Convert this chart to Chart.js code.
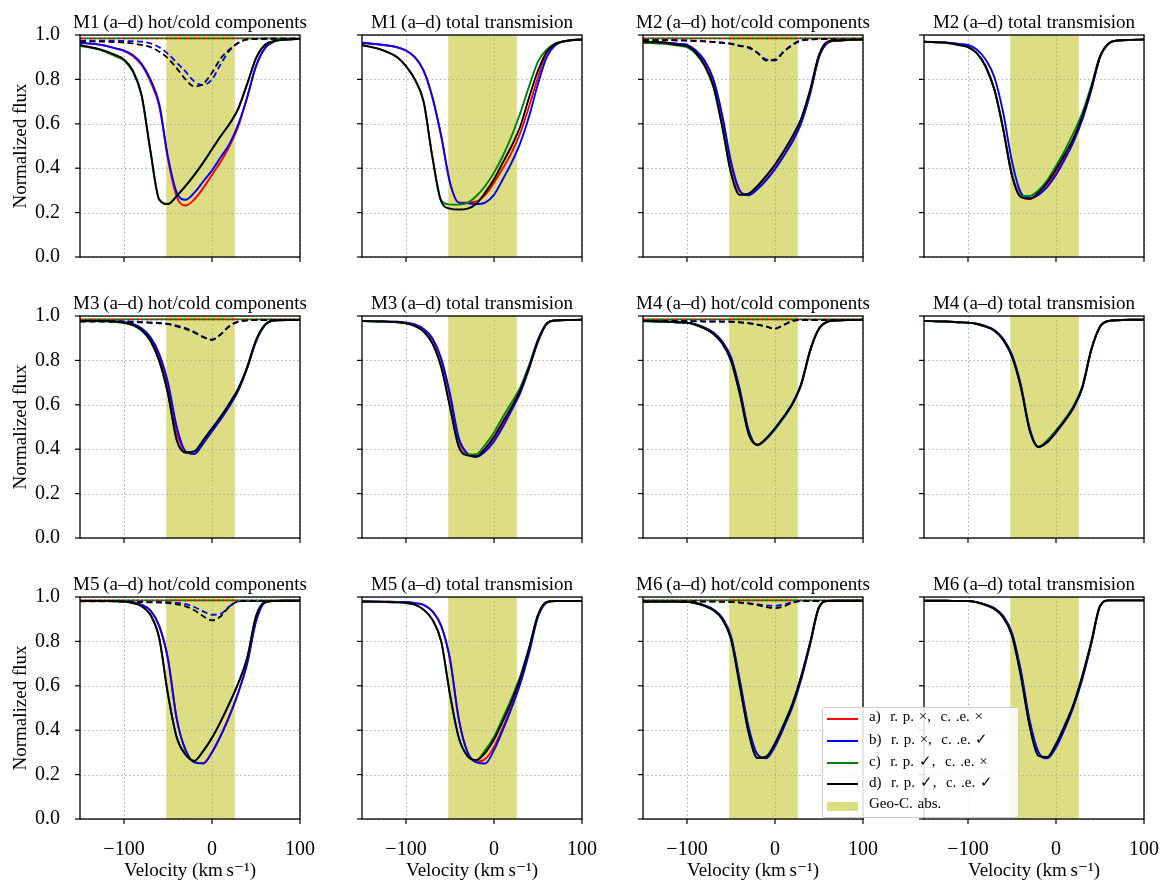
<!DOCTYPE html>
<html>
<head>
<meta charset="utf-8">
<script src="https://cdn.jsdelivr.net/npm/chart.js@4.4.1/dist/chart.umd.min.js"></script>
<style>
body { margin: 0; background: #fff; width: 1175px; height: 896px; position: relative; overflow: hidden; }
canvas { position: absolute; }
#legend { position: absolute; left: 822px; top: 707px; width: 195px; height: 109px; border: 1px solid #cccccc;
          border-radius: 3px; background: rgba(255,255,255,0.85); z-index: 5; font-family: "Liberation Serif", serif;
          font-size: 15px; color: #000; }
#legend .row { position: absolute; left: 0; height: 20px; width: 195px; }
#legend .mark { position: absolute; left: 4px; top: 9px; width: 31px; height: 2px; }
#legend .patch { position: absolute; left: 4px; top: 6px; width: 31px; height: 9px; }
#legend .txt { position: absolute; left: 46px; top: -1px; white-space: pre; word-spacing: 1px; }
</style>
</head>
<body>
<div id="legend"></div>
<script>
// Velocity grid (km/s) shared by every curve
const velocity = [-150,-125,-110,-100,-90,-80,-70,-60,-50,-40,-30,-20,-10,0,10,20,30,40,50,60,70,85,100];
// Geocoronal absorption band
const geoRange = [-52, 26];

const panelTitles = [
    'M1\u2009(a\u2013d) hot/cold components', 'M1\u2009(a\u2013d) total transmision',
    'M2\u2009(a\u2013d) hot/cold components', 'M2\u2009(a\u2013d) total transmision',
    'M3\u2009(a\u2013d) hot/cold components', 'M3\u2009(a\u2013d) total transmision',
    'M4\u2009(a\u2013d) hot/cold components', 'M4\u2009(a\u2013d) total transmision',
    'M5\u2009(a\u2013d) hot/cold components', 'M5\u2009(a\u2013d) total transmision',
    'M6\u2009(a\u2013d) hot/cold components', 'M6\u2009(a\u2013d) total transmision'
];
const legendLabels = ['a)  r. p. \u00d7,  c. .e. \u00d7', 'b)  r. p. \u00d7,  c. .e. \u2713',
                      'c)  r. p. \u2713,  c. .e. \u00d7', 'd)  r. p. \u2713,  c. .e. \u2713'];
const shadeLabel = 'Geo-C. abs.';
const xTitle = 'Velocity (km\u2009s\u207b\u00b9)';
const yTitle = 'Normalized flux';

// cold component of cases a) and c): no absorption
const cold_flat = [0.985,0.985,0.985,0.985,0.985,0.985,0.985,0.985,0.985,0.985,0.985,0.985,0.985,0.985,0.985,0.985,0.985,0.985,0.985,0.985,0.985,0.985,0.985];

// M1
const m1_hot_a = [0.965,0.955,0.94,0.928,0.905,0.865,0.79,0.68,0.44,0.27,0.232,0.26,0.31,0.37,0.43,0.50,0.59,0.72,0.86,0.94,0.97,0.98,0.982];
const m1_hot_b = [0.965,0.955,0.94,0.93,0.91,0.87,0.80,0.69,0.45,0.29,0.258,0.29,0.34,0.39,0.45,0.51,0.60,0.72,0.86,0.94,0.97,0.98,0.982];
const m1_hot_c = [0.952,0.93,0.905,0.885,0.835,0.725,0.475,0.258,0.24,0.275,0.32,0.37,0.425,0.485,0.545,0.60,0.67,0.78,0.895,0.955,0.972,0.98,0.982];
const m1_hot_d = [0.955,0.933,0.91,0.89,0.84,0.73,0.48,0.26,0.238,0.275,0.32,0.37,0.425,0.485,0.545,0.60,0.67,0.78,0.895,0.955,0.972,0.98,0.982];
const m1_cold_b = [0.975,0.975,0.974,0.973,0.972,0.97,0.962,0.945,0.915,0.875,0.835,0.79,0.775,0.80,0.87,0.93,0.965,0.98,0.982,0.983,0.983,0.983,0.983];
const m1_cold_d = [0.97,0.97,0.968,0.966,0.962,0.955,0.945,0.925,0.895,0.85,0.80,0.768,0.78,0.83,0.895,0.935,0.965,0.98,0.982,0.983,0.983,0.983,0.983];
const m1_tot_a = [0.965,0.955,0.945,0.93,0.90,0.84,0.72,0.545,0.335,0.245,0.245,0.25,0.28,0.335,0.40,0.47,0.56,0.68,0.81,0.92,0.958,0.975,0.98];
const m1_tot_b = [0.965,0.955,0.945,0.93,0.90,0.84,0.72,0.545,0.335,0.245,0.242,0.238,0.245,0.28,0.35,0.425,0.515,0.635,0.78,0.90,0.955,0.975,0.98];
const m1_tot_c = [0.955,0.93,0.90,0.86,0.80,0.70,0.45,0.255,0.236,0.236,0.245,0.275,0.32,0.38,0.455,0.545,0.65,0.77,0.88,0.935,0.962,0.975,0.98];
const m1_tot_d = [0.955,0.93,0.90,0.86,0.80,0.70,0.45,0.25,0.218,0.214,0.218,0.24,0.29,0.35,0.425,0.50,0.59,0.72,0.84,0.925,0.96,0.975,0.98];

// M2
const m2_hot_a = [0.97,0.966,0.96,0.955,0.93,0.882,0.795,0.632,0.42,0.295,0.28,0.31,0.35,0.40,0.46,0.527,0.61,0.74,0.90,0.965,0.975,0.978,0.98];
const m2_hot_b = [0.97,0.966,0.96,0.955,0.93,0.885,0.80,0.64,0.43,0.30,0.278,0.305,0.345,0.395,0.455,0.52,0.605,0.735,0.90,0.965,0.975,0.978,0.98];
const m2_hot_c = [0.965,0.96,0.952,0.945,0.915,0.86,0.765,0.585,0.378,0.28,0.285,0.318,0.363,0.415,0.475,0.543,0.624,0.752,0.91,0.97,0.975,0.978,0.98];
const m2_hot_d = [0.97,0.965,0.955,0.95,0.92,0.865,0.77,0.59,0.38,0.28,0.285,0.32,0.365,0.417,0.477,0.545,0.626,0.753,0.91,0.97,0.975,0.978,0.98];
const m2_cold_b = [0.977,0.977,0.976,0.975,0.974,0.972,0.969,0.966,0.961,0.952,0.942,0.92,0.89,0.885,0.925,0.958,0.977,0.98,0.981,0.981,0.981,0.981,0.981];
const m2_cold_d = [0.977,0.977,0.976,0.975,0.973,0.971,0.968,0.965,0.96,0.95,0.945,0.92,0.885,0.89,0.925,0.955,0.975,0.98,0.981,0.981,0.981,0.981,0.981];
const m2_tot_a = [0.97,0.965,0.955,0.945,0.918,0.86,0.757,0.58,0.372,0.275,0.262,0.28,0.32,0.38,0.45,0.53,0.625,0.755,0.90,0.962,0.975,0.978,0.98];
const m2_tot_b = [0.97,0.966,0.96,0.955,0.935,0.89,0.81,0.65,0.43,0.29,0.265,0.28,0.315,0.37,0.44,0.52,0.62,0.75,0.90,0.962,0.975,0.978,0.98];
const m2_tot_c = [0.97,0.965,0.955,0.945,0.918,0.858,0.753,0.576,0.37,0.275,0.275,0.30,0.345,0.41,0.48,0.56,0.65,0.77,0.905,0.963,0.975,0.978,0.98];
const m2_tot_d = [0.97,0.965,0.955,0.945,0.918,0.858,0.753,0.574,0.365,0.27,0.262,0.29,0.335,0.395,0.462,0.537,0.634,0.76,0.903,0.963,0.975,0.978,0.98];

// M3
const m3_hot_a = [0.978,0.978,0.975,0.971,0.962,0.942,0.898,0.818,0.68,0.475,0.388,0.38,0.43,0.485,0.54,0.60,0.668,0.767,0.887,0.958,0.98,0.982,0.982];
const m3_hot_b = [0.978,0.978,0.975,0.972,0.964,0.945,0.905,0.83,0.70,0.50,0.39,0.378,0.425,0.48,0.535,0.595,0.665,0.765,0.885,0.958,0.98,0.982,0.982];
const m3_hot_c = [0.976,0.976,0.973,0.968,0.958,0.934,0.887,0.797,0.648,0.44,0.385,0.39,0.44,0.494,0.547,0.607,0.674,0.77,0.89,0.96,0.98,0.982,0.982];
const m3_hot_d = [0.978,0.978,0.975,0.97,0.96,0.937,0.89,0.80,0.65,0.44,0.385,0.39,0.44,0.494,0.547,0.607,0.674,0.77,0.89,0.96,0.98,0.982,0.982];
const m3_cold_b = [0.977,0.977,0.977,0.976,0.975,0.973,0.971,0.969,0.965,0.957,0.945,0.928,0.906,0.893,0.918,0.955,0.975,0.98,0.982,0.982,0.982,0.982,0.982];
const m3_cold_d = [0.975,0.975,0.975,0.974,0.973,0.971,0.969,0.967,0.963,0.953,0.942,0.925,0.905,0.893,0.918,0.955,0.975,0.98,0.982,0.982,0.982,0.982,0.982];
const m3_tot_a = [0.977,0.976,0.974,0.97,0.961,0.94,0.895,0.80,0.635,0.44,0.377,0.368,0.40,0.45,0.515,0.585,0.662,0.768,0.887,0.966,0.98,0.982,0.983];
const m3_tot_b = [0.977,0.976,0.974,0.97,0.962,0.942,0.90,0.81,0.65,0.45,0.38,0.365,0.39,0.435,0.50,0.575,0.655,0.765,0.885,0.965,0.98,0.982,0.983];
const m3_tot_c = [0.977,0.975,0.972,0.967,0.955,0.93,0.877,0.77,0.592,0.415,0.376,0.378,0.42,0.475,0.545,0.61,0.68,0.78,0.895,0.968,0.98,0.982,0.983];
const m3_tot_d = [0.977,0.975,0.972,0.967,0.955,0.93,0.877,0.77,0.59,0.41,0.372,0.368,0.404,0.456,0.524,0.59,0.667,0.772,0.89,0.967,0.98,0.982,0.983];

// M4
const m4_hot_a = [0.978,0.975,0.972,0.97,0.962,0.947,0.925,0.885,0.812,0.665,0.482,0.418,0.446,0.491,0.544,0.604,0.694,0.844,0.942,0.975,0.98,0.982,0.983];
const m4_hot_b = [0.978,0.975,0.972,0.97,0.962,0.948,0.926,0.886,0.815,0.67,0.485,0.418,0.445,0.49,0.543,0.603,0.693,0.843,0.942,0.975,0.98,0.982,0.983];
const m4_hot_c = [0.976,0.974,0.971,0.969,0.959,0.943,0.919,0.876,0.798,0.648,0.468,0.42,0.45,0.495,0.548,0.608,0.698,0.848,0.944,0.975,0.98,0.982,0.983];
const m4_hot_d = [0.978,0.975,0.972,0.97,0.96,0.944,0.92,0.877,0.80,0.65,0.47,0.42,0.449,0.494,0.547,0.607,0.697,0.847,0.944,0.975,0.98,0.982,0.983];
const m4_cold_b = [0.978,0.978,0.978,0.977,0.977,0.976,0.976,0.975,0.974,0.972,0.968,0.962,0.953,0.944,0.96,0.978,0.982,0.982,0.982,0.982,0.982,0.982,0.982];
const m4_cold_d = [0.977,0.977,0.977,0.976,0.976,0.975,0.975,0.975,0.974,0.971,0.967,0.96,0.952,0.942,0.96,0.978,0.982,0.982,0.982,0.982,0.982,0.982,0.982];
const m4_tot_a = [0.978,0.975,0.972,0.97,0.965,0.954,0.936,0.896,0.823,0.688,0.493,0.41,0.431,0.476,0.528,0.588,0.678,0.846,0.951,0.978,0.981,0.983,0.983];
const m4_tot_b = [0.978,0.975,0.972,0.97,0.965,0.954,0.937,0.897,0.825,0.69,0.495,0.41,0.43,0.475,0.527,0.587,0.677,0.845,0.951,0.978,0.981,0.983,0.983];
const m4_tot_c = [0.978,0.975,0.972,0.97,0.964,0.952,0.934,0.892,0.817,0.68,0.486,0.412,0.44,0.485,0.536,0.596,0.686,0.85,0.953,0.978,0.981,0.983,0.983];
const m4_tot_d = [0.978,0.975,0.972,0.97,0.964,0.952,0.934,0.892,0.817,0.68,0.486,0.41,0.434,0.479,0.53,0.59,0.68,0.847,0.952,0.978,0.981,0.983,0.983];

// M5
const m5_hot_a = [0.982,0.982,0.982,0.982,0.977,0.965,0.94,0.87,0.72,0.45,0.31,0.256,0.252,0.302,0.378,0.468,0.573,0.703,0.892,0.975,0.982,0.983,0.983];
const m5_hot_b = [0.982,0.982,0.982,0.982,0.977,0.965,0.94,0.87,0.72,0.45,0.31,0.255,0.25,0.30,0.375,0.465,0.57,0.70,0.89,0.975,0.982,0.983,0.983];
const m5_hot_c = [0.982,0.982,0.981,0.98,0.973,0.958,0.92,0.815,0.56,0.366,0.29,0.262,0.306,0.366,0.44,0.523,0.613,0.726,0.913,0.977,0.982,0.983,0.983];
const m5_hot_d = [0.982,0.982,0.981,0.98,0.973,0.958,0.92,0.815,0.56,0.366,0.29,0.262,0.306,0.366,0.44,0.523,0.613,0.726,0.913,0.977,0.982,0.983,0.983];
const m5_cold_b = [0.982,0.982,0.982,0.981,0.98,0.979,0.978,0.978,0.977,0.973,0.968,0.955,0.935,0.92,0.924,0.958,0.98,0.982,0.982,0.982,0.982,0.982,0.982];
const m5_cold_d = [0.98,0.98,0.98,0.979,0.978,0.977,0.976,0.975,0.973,0.967,0.958,0.94,0.913,0.895,0.913,0.958,0.98,0.982,0.982,0.982,0.982,0.982,0.982];
const m5_tot_a = [0.98,0.979,0.978,0.978,0.972,0.965,0.935,0.87,0.72,0.45,0.30,0.258,0.27,0.325,0.41,0.51,0.62,0.76,0.915,0.976,0.982,0.982,0.982];
const m5_tot_b = [0.98,0.979,0.978,0.978,0.972,0.965,0.935,0.87,0.72,0.45,0.30,0.255,0.25,0.31,0.40,0.50,0.61,0.75,0.91,0.975,0.982,0.982,0.982];
const m5_tot_c = [0.98,0.978,0.976,0.973,0.966,0.943,0.898,0.80,0.56,0.366,0.283,0.265,0.31,0.37,0.455,0.545,0.645,0.775,0.92,0.978,0.982,0.982,0.982];
const m5_tot_d = [0.98,0.978,0.976,0.973,0.966,0.943,0.898,0.80,0.56,0.366,0.283,0.265,0.298,0.358,0.44,0.53,0.636,0.77,0.92,0.978,0.982,0.982,0.982];

// M6
const m6_hot_a = [0.98,0.98,0.979,0.978,0.973,0.962,0.943,0.905,0.82,0.62,0.41,0.29,0.275,0.33,0.415,0.51,0.635,0.79,0.953,0.982,0.983,0.983,0.983];
const m6_hot_b = [0.98,0.98,0.979,0.978,0.973,0.962,0.944,0.907,0.823,0.625,0.415,0.292,0.273,0.327,0.412,0.507,0.632,0.788,0.952,0.982,0.983,0.983,0.983];
const m6_hot_c = [0.98,0.98,0.979,0.978,0.972,0.96,0.94,0.90,0.81,0.60,0.39,0.275,0.282,0.342,0.427,0.522,0.647,0.797,0.955,0.982,0.983,0.983,0.983];
const m6_hot_d = [0.98,0.98,0.979,0.978,0.972,0.96,0.94,0.90,0.81,0.60,0.39,0.275,0.28,0.34,0.425,0.52,0.645,0.795,0.955,0.982,0.983,0.983,0.983];
const m6_cold_b = [0.981,0.981,0.981,0.981,0.981,0.98,0.98,0.979,0.978,0.976,0.972,0.967,0.962,0.96,0.966,0.977,0.982,0.982,0.982,0.982,0.982,0.982,0.982];
const m6_cold_d = [0.98,0.98,0.98,0.98,0.98,0.979,0.979,0.978,0.977,0.975,0.97,0.963,0.955,0.95,0.958,0.975,0.982,0.982,0.982,0.982,0.982,0.982,0.982];
const m6_tot_a = [0.983,0.983,0.982,0.982,0.977,0.966,0.949,0.913,0.835,0.665,0.44,0.30,0.275,0.325,0.41,0.51,0.635,0.79,0.958,0.985,0.985,0.985,0.985];
const m6_tot_b = [0.983,0.983,0.982,0.982,0.977,0.966,0.95,0.915,0.838,0.67,0.445,0.302,0.273,0.322,0.407,0.507,0.632,0.787,0.957,0.985,0.985,0.985,0.985];
const m6_tot_c = [0.983,0.983,0.982,0.982,0.976,0.964,0.946,0.908,0.826,0.645,0.42,0.285,0.28,0.34,0.425,0.52,0.648,0.797,0.96,0.985,0.985,0.985,0.985];
const m6_tot_d = [0.983,0.983,0.982,0.982,0.976,0.964,0.946,0.908,0.826,0.645,0.42,0.285,0.278,0.337,0.42,0.517,0.645,0.795,0.96,0.985,0.985,0.985,0.985];

const hotSets = [
    [m1_hot_a, m1_hot_b, m1_hot_c, m1_hot_d], [m2_hot_a, m2_hot_b, m2_hot_c, m2_hot_d],
    [m3_hot_a, m3_hot_b, m3_hot_c, m3_hot_d], [m4_hot_a, m4_hot_b, m4_hot_c, m4_hot_d],
    [m5_hot_a, m5_hot_b, m5_hot_c, m5_hot_d], [m6_hot_a, m6_hot_b, m6_hot_c, m6_hot_d]
];
const coldSets = [
    [cold_flat, m1_cold_b, cold_flat, m1_cold_d], [cold_flat, m2_cold_b, cold_flat, m2_cold_d],
    [cold_flat, m3_cold_b, cold_flat, m3_cold_d], [cold_flat, m4_cold_b, cold_flat, m4_cold_d],
    [cold_flat, m5_cold_b, cold_flat, m5_cold_d], [cold_flat, m6_cold_b, cold_flat, m6_cold_d]
];
const totSets = [
    [m1_tot_a, m1_tot_b, m1_tot_c, m1_tot_d], [m2_tot_a, m2_tot_b, m2_tot_c, m2_tot_d],
    [m3_tot_a, m3_tot_b, m3_tot_c, m3_tot_d], [m4_tot_a, m4_tot_b, m4_tot_c, m4_tot_d],
    [m5_tot_a, m5_tot_b, m5_tot_c, m5_tot_d], [m6_tot_a, m6_tot_b, m6_tot_c, m6_tot_d]
];

const seriesColors = ['#ff0000', '#0000ff', '#008000', '#000000'];
const shadeColor = 'rgb(221,221,131)';
const FONT = '"Liberation Serif", "DejaVu Serif", serif';

// Layout of the 3x4 grid (plot area in page pixels)
const plotLefts = [80, 362, 643, 924];
const plotTops = [35, 316, 597];
const plotW = 220, plotH = 222;
const padLeft = 80, padTop = 35, padRight = 30, padBottom = 65;

function toPoints(values) {
    return values.map((y, k) => ({ x: velocity[k], y: y }));
}

function fmtVel(v) {
    return v < 0 ? '\u2212' + Math.abs(v) : String(v);
}

// Draws shaded band, dotted grid, frame, tick marks and title
function makePanelPlugin(title) {
    return {
        id: 'panelDeco',
        beforeDatasetsDraw(chart) {
            const { ctx, chartArea: a, scales } = chart;
            const x0 = scales.x.getPixelForValue(geoRange[0]);
            const x1 = scales.x.getPixelForValue(geoRange[1]);
            ctx.save();
            ctx.fillStyle = shadeColor;
            ctx.fillRect(x0, a.top, x1 - x0, a.bottom - a.top);
            ctx.strokeStyle = '#acacac';
            ctx.lineWidth = 1;
            ctx.setLineDash([1.5, 2.6]);
            scales.x.ticks.forEach(t => {
                const px = Math.round(scales.x.getPixelForValue(t.value)) + 0.5;
                ctx.beginPath(); ctx.moveTo(px, a.top); ctx.lineTo(px, a.bottom); ctx.stroke();
            });
            scales.y.ticks.forEach(t => {
                const py = Math.round(scales.y.getPixelForValue(t.value)) + 0.5;
                ctx.beginPath(); ctx.moveTo(a.left, py); ctx.lineTo(a.right, py); ctx.stroke();
            });
            ctx.restore();
        },
        afterDraw(chart) {
            const { ctx, chartArea: a, scales } = chart;
            ctx.save();
            ctx.strokeStyle = '#000';
            ctx.lineWidth = 1.3;
            ctx.strokeRect(a.left, a.top, a.right - a.left, a.bottom - a.top);
            ctx.lineWidth = 1.2;
            scales.x.ticks.forEach(t => {
                const px = scales.x.getPixelForValue(t.value);
                ctx.beginPath(); ctx.moveTo(px, a.bottom); ctx.lineTo(px, a.bottom + 5); ctx.stroke();
            });
            scales.y.ticks.forEach(t => {
                const py = scales.y.getPixelForValue(t.value);
                ctx.beginPath(); ctx.moveTo(a.left - 5, py); ctx.lineTo(a.left, py); ctx.stroke();
            });
            ctx.fillStyle = '#000';
            ctx.font = '19px ' + FONT;
            ctx.textAlign = 'center';
            ctx.textBaseline = 'alphabetic';
            ctx.fillText(title, (a.left + a.right) / 2, a.top - 7);
            ctx.restore();
        }
    };
}

function buildDatasets(isHot, model) {
    const datasets = [];
    let seq = 0;
    for (let s = 0; s < 4; s++) {
        const src = isHot ? hotSets[model][s] : totSets[model][s];
        datasets.push({ data: toPoints(src), borderColor: seriesColors[s], borderWidth: 1.9, order: 20 - seq++ });
        if (isHot) {
            datasets.push({ data: toPoints(coldSets[model][s]), borderColor: seriesColors[s], borderWidth: 1.8,
                            borderDash: [6, 3.5], borderDashOffset: s === 2 ? 4.5 : 0, order: 20 - seq++ });
        }
    }
    return datasets;
}

for (let i = 0; i < 12; i++) {
    const row = Math.floor(i / 4), col = i % 4;
    const isHot = col % 2 === 0;
    const model = row * 2 + Math.floor(col / 2);
    const firstCol = col === 0, bottomRow = row === 2;

    const canvas = document.createElement('canvas');
    canvas.width = padLeft + plotW + padRight;
    canvas.height = padTop + plotH + padBottom;
    canvas.style.left = (plotLefts[col] - padLeft) + 'px';
    canvas.style.top = (plotTops[row] - padTop) + 'px';
    document.body.appendChild(canvas);

    new Chart(canvas.getContext('2d'), {
        type: 'line',
        data: { datasets: buildDatasets(isHot, model) },
        options: {
            responsive: false,
            animation: false,
            devicePixelRatio: 1,
            layout: { padding: { top: padTop, right: padRight, left: 0, bottom: 0 } },
            plugins: { legend: { display: false }, tooltip: { enabled: false }, title: { display: false } },
            elements: { point: { radius: 0 }, line: { cubicInterpolationMode: 'monotone' } },
            scales: {
                x: {
                    type: 'linear', min: -150, max: 100,
                    afterFit: (scale) => { scale.height = padBottom; },
                    grid: { display: false }, border: { display: false },
                    ticks: {
                        stepSize: 100, includeBounds: false, autoSkip: false, maxRotation: 0, padding: 11,
                        color: '#000', font: { family: FONT, size: 20 },
                        callback: (v) => bottomRow ? fmtVel(v) : ''
                    },
                    title: {
                        display: bottomRow, text: xTitle, color: '#000',
                        font: { family: FONT, size: 19 }, padding: { top: 0, bottom: 2 }
                    }
                },
                y: {
                    type: 'linear', min: 0, max: 1,
                    afterFit: (scale) => { scale.width = padLeft; },
                    grid: { display: false }, border: { display: false },
                    ticks: {
                        stepSize: 0.2, autoSkip: false, padding: 12, color: '#000',
                        font: { family: FONT, size: 20 },
                        callback: (v) => firstCol ? Number(v).toFixed(1) : ''
                    },
                    title: {
                        display: firstCol, text: yTitle, color: '#000',
                        font: { family: FONT, size: 19 }, padding: { top: 10, bottom: 0 }
                    }
                }
            }
        },
        plugins: [makePanelPlugin(panelTitles[i])]
    });
}

// Legend (sits inside the M6 hot/cold panel, as in the figure)
const legend = document.getElementById('legend');
const rowTops = [1, 23, 45, 66, 88];
legendLabels.forEach((label, k) => {
    const row = document.createElement('div');
    row.className = 'row';
    row.style.top = rowTops[k] + 'px';
    row.innerHTML = '<div class="mark" style="background:' + seriesColors[k] + '"></div><div class="txt"></div>';
    row.querySelector('.txt').textContent = label;
    legend.appendChild(row);
});
const shadeRow = document.createElement('div');
shadeRow.className = 'row';
shadeRow.style.top = rowTops[4] + 'px';
shadeRow.innerHTML = '<div class="patch" style="background:' + shadeColor + '"></div><div class="txt"></div>';
shadeRow.querySelector('.txt').textContent = shadeLabel;
legend.appendChild(shadeRow);
</script>
</body>
</html>
